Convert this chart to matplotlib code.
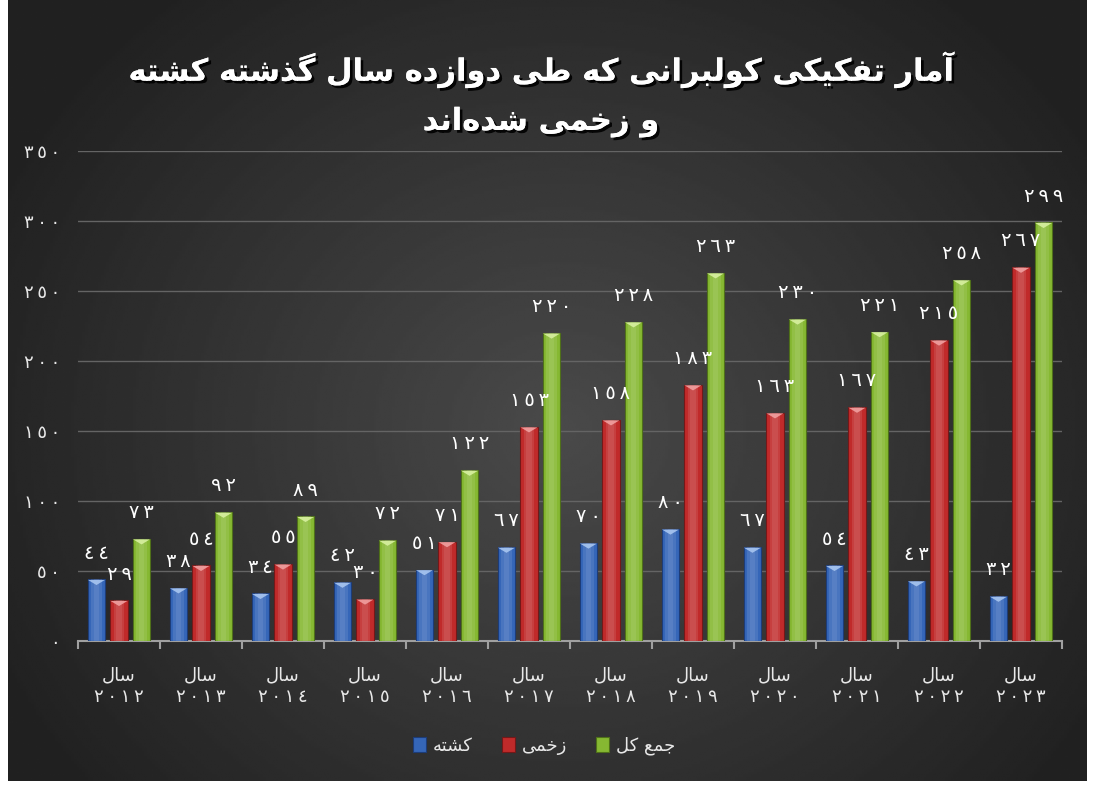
import numpy as np
import matplotlib.pyplot as plt
from matplotlib import patheffects

# داده‌ها
years = ["2012", "2013", "2014", "2015", "2016", "2017",
         "2018", "2019", "2020", "2021", "2022", "2023"]
killed = [44, 38, 34, 42, 51, 67, 70, 80, 67, 54, 43, 32]
injured = [29, 54, 55, 30, 71, 153, 158, 183, 163, 167, 215, 267]
total = [73, 92, 89, 72, 122, 220, 228, 263, 230, 221, 258, 299]
series_names = ["کشته", "زخمی", "جمع کل"]
title_lines = ["آمار تفکیکی کولبرانی که طی دوازده سال گذشته کشته",
               "و زخمی شده‌اند"]
year_word = "سال"
y_ticks = [0, 50, 100, 150, 200, 250, 300, 350]

colors = ["#3566b8", "#c02a2a", "#86b832"]
edges = ["#1d3c78", "#741818", "#4f7019"]
tops = ["#a8c6f0", "#f0a0a0", "#d8f0a0"]

# شکل‌دهی ساده حروف فارسی (matplotlib خودش این کار را نمی‌کند)
FORMS = {
    'ا': ('\uFE8D', '\uFE8E', None, None),
    'آ': ('\uFE81', '\uFE82', None, None),
    'ب': ('\uFE8F', '\uFE90', '\uFE91', '\uFE92'),
    'ت': ('\uFE95', '\uFE96', '\uFE97', '\uFE98'),
    'ج': ('\uFE9D', '\uFE9E', '\uFE9F', '\uFEA0'),
    'خ': ('\uFEA5', '\uFEA6', '\uFEA7', '\uFEA8'),
    'د': ('\uFEA9', '\uFEAA', None, None),
    'ذ': ('\uFEAB', '\uFEAC', None, None),
    'ر': ('\uFEAD', '\uFEAE', None, None),
    'ز': ('\uFEAF', '\uFEB0', None, None),
    'س': ('\uFEB1', '\uFEB2', '\uFEB3', '\uFEB4'),
    'ش': ('\uFEB5', '\uFEB6', '\uFEB7', '\uFEB8'),
    'ط': ('\uFEC1', '\uFEC2', '\uFEC3', '\uFEC4'),
    'ع': ('\uFEC9', '\uFECA', '\uFECB', '\uFECC'),
    'ف': ('\uFED1', '\uFED2', '\uFED3', '\uFED4'),
    'ل': ('\uFEDD', '\uFEDE', '\uFEDF', '\uFEE0'),
    'م': ('\uFEE1', '\uFEE2', '\uFEE3', '\uFEE4'),
    'ن': ('\uFEE5', '\uFEE6', '\uFEE7', '\uFEE8'),
    'ه': ('\uFEE9', '\uFEEA', '\uFEEB', '\uFEEC'),
    'و': ('\uFEED', '\uFEEE', None, None),
    'ک': ('\uFB8E', '\uFB8F', '\uFB90', '\uFB91'),
    'گ': ('\uFB92', '\uFB93', '\uFB94', '\uFB95'),
    'ی': ('\uFBFC', '\uFBFD', '\uFBFE', '\uFBFF'),
}


def shape(text):
    out = []
    for i, c in enumerate(text):
        if c not in FORMS:
            if c != '\u200c':
                out.append(c)
            continue
        iso, fin, ini, med = FORMS[c]
        prev = text[i - 1] if i > 0 else None
        nxt = text[i + 1] if i + 1 < len(text) else None
        jp = prev in FORMS and FORMS[prev][2] is not None
        jn = ini is not None and nxt in FORMS
        if jp and jn:
            out.append(med)
        elif jp:
            out.append(fin)
        elif jn:
            out.append(ini)
        else:
            out.append(iso)
    return ''.join(out)[::-1]


def fa_num(n, sep=""):
    return sep.join(chr(0x0660 + int(d)) for d in str(n))


plt.rcParams['font.family'] = ['DejaVu Sans']

fig = plt.figure(figsize=(10.95, 7.87), dpi=100)
fig.patch.set_facecolor("white")

# پس‌زمینه با گرادیان شعاعی
bg = fig.add_axes([0, 0, 1, 1], zorder=-5)
bg.set_xlim(0, 1095)
bg.set_ylim(787, 0)
bg.axis("off")
gx, gy = np.meshgrid(np.linspace(8, 1087, 400), np.linspace(0, 781, 300))
r = np.sqrt(((gx - 560) / 620) ** 2 + ((gy - 430) / 560) ** 2)
shade = np.clip(0.29 - 0.16 * r, 0.13, 0.3)
bg.imshow(shade, cmap="gray", vmin=0, vmax=1, extent=(8, 1087, 781, 0),
          aspect="auto", interpolation="bilinear")

ax = fig.add_axes([78 / 1095, 1 - 641 / 787, (1062 - 78) / 1095, (641 - 151) / 787])
ax.set_facecolor("none")

x = np.arange(len(years))
w = 0.215
off = 0.275
tri = [(-1, 0.3), (1, 0.3), (0, -0.3)]
series = [killed, injured, total]
for k, vals in enumerate(series):
    xs = x + (k - 1) * off
    ax.bar(xs, vals, width=w, color=colors[k], edgecolor=edges[k],
           linewidth=0.8, label=series_names[k], zorder=3)
    # برجستگی وسط ستون
    ax.bar(xs, vals, width=w * 0.6, color="white", alpha=0.10, linewidth=0, zorder=3.1)
    ax.bar(xs, vals, width=w * 0.3, color="white", alpha=0.08, linewidth=0, zorder=3.2)
    ax.scatter(xs, np.array(vals) - 2.2, marker=tri, s=150, color=tops[k],
               edgecolors="none", zorder=4, alpha=0.9)
    for xi, v in zip(xs, vals):
        ax.text(xi, v + 12, fa_num(v, "\u2009"), ha="center", va="bottom",
                color="white", fontsize=14, zorder=5)

ax.set_xlim(-0.5, len(years) - 0.5)
ax.set_ylim(0, 350)
ax.set_yticks(y_ticks)
ax.set_yticklabels([fa_num(t, "\u2009") for t in y_ticks], color="#e8e8e8", fontsize=13)
ax.tick_params(axis="y", length=0, pad=13)
ax.yaxis.grid(True, color="#646464", linewidth=1)
ax.set_axisbelow(True)

ax.set_xticks(x)
ax.set_xticklabels([shape(year_word) + "\n" + fa_num(y, "\u2009") for y in years],
                   color="#e8e8e8", fontsize=13, linespacing=1.25)
ax.tick_params(axis="x", length=0, pad=18)
ax.set_xticks(np.arange(-0.5, len(years), 1), minor=True)
ax.tick_params(axis="x", which="minor", length=6, color="#a0a0a0", width=1.5)

for s in ["top", "right", "left"]:
    ax.spines[s].set_visible(False)
ax.spines["bottom"].set_color("#a0a0a0")
ax.spines["bottom"].set_linewidth(1.5)

shadow = [patheffects.withSimplePatchShadow(offset=(2, -2), shadow_rgbFace="black", alpha=0.9),
          patheffects.Normal()]
fig.text(0.494, 1 - 70 / 787, shape(title_lines[0]), ha="center", va="center",
         color="white", fontsize=22, fontweight="bold", path_effects=shadow)
fig.text(0.494, 1 - 122 / 787, shape(title_lines[1]), ha="center", va="center",
         color="white", fontsize=22, fontweight="bold", path_effects=shadow)

handles, labels = ax.get_legend_handles_labels()
leg = fig.legend(handles, [shape(l) for l in labels], loc="center",
                 bbox_to_anchor=(0.497, 1 - 746 / 787), ncol=3, frameon=False,
                 fontsize=13, labelcolor="#e8e8e8", handlelength=0.7,
                 handleheight=0.9, handletextpad=0.4, columnspacing=1.6)

fig.savefig("out.png", dpi=100)
